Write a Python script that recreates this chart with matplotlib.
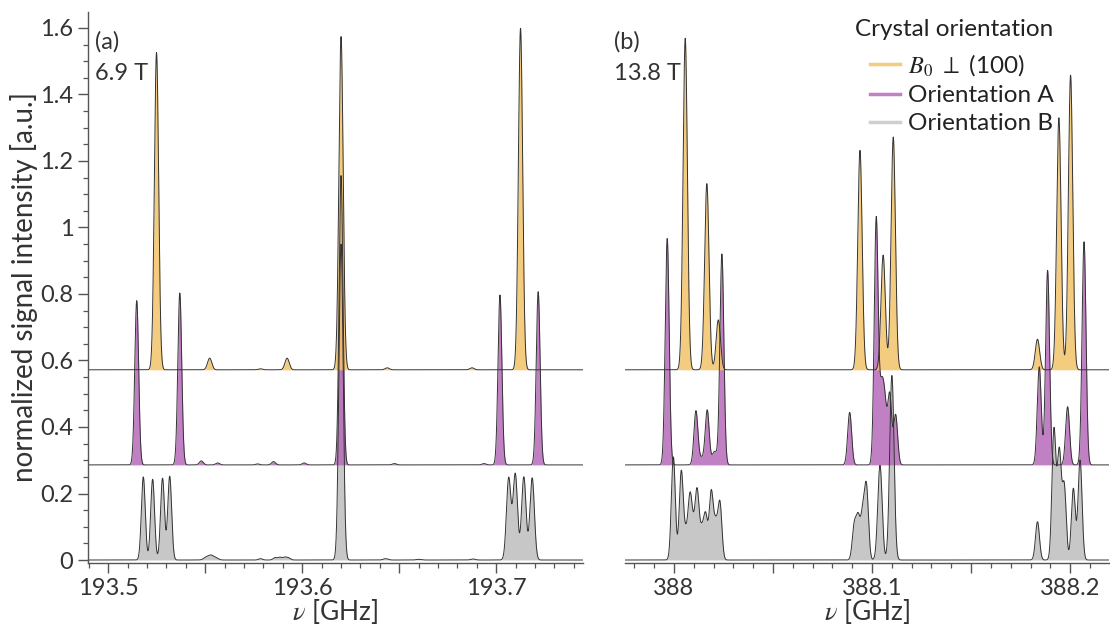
import numpy as np
import matplotlib.pyplot as plt
from matplotlib.ticker import MultipleLocator, FuncFormatter
from matplotlib.lines import Line2D

plt.rcParams['font.family'] = ['Lato', 'DejaVu Sans']
plt.rcParams['mathtext.fontset'] = 'stix'

# vertical offsets of the stacked spectra
base_b = 0.0
base_a = 0.286
base_100 = 0.572

# ---- (a) 6.9 T : line centres [GHz] and heights above baseline ----
a100_nu = [193.5249, 193.5523, 193.5785, 193.5922, 193.6200, 193.6438, 193.6875, 193.7125]
a100_h = [0.954, 0.035, 0.003, 0.035, 1.002, 0.006, 0.006, 1.027]

aA_nu = [193.5147, 193.5369, 193.5480, 193.5564, 193.5770, 193.5852, 193.6010,
         193.6200, 193.6475, 193.6937, 193.7019, 193.7216]
aA_h = [0.494, 0.517, 0.012, 0.006, 0.003, 0.010, 0.006,
        0.870, 0.004, 0.004, 0.511, 0.521]

aB_nu = [193.5181, 193.5229, 193.5280, 193.5317, 193.5505, 193.5530, 193.5555,
         193.5785, 193.5860, 193.5885, 193.5910, 193.5930, 193.6200,
         193.6430, 193.6600, 193.6880,
         193.7064, 193.7098, 193.7142, 193.7185]
aB_h = [0.250, 0.243, 0.246, 0.252, 0.008, 0.013, 0.006,
        0.004, 0.007, 0.008, 0.008, 0.006, 0.950,
        0.004, 0.002, 0.003,
        0.246, 0.258, 0.250, 0.247]
aB_w = [0.0010, 0.0010, 0.0010, 0.0010, 0.0013, 0.0013, 0.0013,
        0.0010, 0.0010, 0.0010, 0.0010, 0.0010, 0.0011,
        0.0012, 0.0012, 0.0012,
        0.00115, 0.00115, 0.00115, 0.00115]

# ---- (b) 13.8 T ----
b100_nu = [388.0057, 388.0166, 388.0224, 388.0939, 388.1056, 388.1107,
           388.1835, 388.1943, 388.2002]
b100_h = [0.997, 0.560, 0.150, 0.660, 0.345, 0.700, 0.092, 0.758, 0.886]

bA_nu = [387.9966, 388.0111, 388.0140, 388.0168, 388.0205, 388.0242, 388.0887,
         388.1021, 388.1047, 388.1064, 388.1089, 388.1119,
         388.1844, 388.1886, 388.1987, 388.2070]
bA_h = [0.681, 0.162, 0.020, 0.164, 0.040, 0.634, 0.158,
        0.740, 0.200, 0.170, 0.210, 0.150,
        0.295, 0.585, 0.175, 0.671]
bA_w = [0.0010, 0.0010, 0.0012, 0.0010, 0.0012, 0.0010, 0.0010,
        0.0010, 0.0010, 0.0010, 0.0010, 0.0010,
        0.0010, 0.0010, 0.0010, 0.0010]

bB_nu = [387.9997, 388.0037, 388.0060, 388.0081, 388.0098, 388.0117, 388.0140,
         388.0160, 388.0188, 388.0210, 388.0232,
         388.0910, 388.0930, 388.0953, 388.0972, 388.1040, 388.1100,
         388.1835, 388.1918, 388.1945, 388.1970, 388.2016, 388.2050]
bB_h = [0.310, 0.265, 0.070, 0.180, 0.070, 0.200, 0.080,
        0.130, 0.200, 0.100, 0.170,
        0.100, 0.120, 0.130, 0.210, 0.285, 0.555,
        0.115, 0.390, 0.320, 0.220, 0.215, 0.300]
bB_w = [0.0010] * 11 + [0.0010, 0.0010, 0.0010, 0.0010, 0.0011, 0.0011] + [0.0010] * 6

c100 = '#f3c36a'
cA = '#b66aba'
cB = '#bebebe'
edge = '#333333'
txt = '#333333'


def spectrum(nu, centres, heights, widths=0.001):
    widths = np.broadcast_to(widths, len(centres))
    y = np.zeros_like(nu)
    for c, h, w in zip(centres, heights, widths):
        y += h * np.exp(-0.5 * ((nu - c) / w) ** 2)
    return y


def draw(ax, nu, base, y, color):
    ax.fill_between(nu, base, base + y, color=color, alpha=0.85, lw=0)
    ax.plot(nu, base + y, color=edge, lw=0.7)


def tick_fmt(v, pos):
    if abs(v * 10 - round(v * 10)) < 1e-6:
        return '{:g}'.format(round(v, 1))
    return ''


def style(ax, xlim):
    ax.set_xlim(*xlim)
    ax.set_ylim(-0.009, 1.648)
    for s in ['top', 'right']:
        ax.spines[s].set_visible(False)
    for s in ['left', 'bottom']:
        ax.spines[s].set_color('#555555')
        ax.spines[s].set_linewidth(1.0)
    ax.xaxis.set_major_locator(MultipleLocator(0.05))
    ax.xaxis.set_minor_locator(MultipleLocator(0.01))
    ax.xaxis.set_major_formatter(FuncFormatter(tick_fmt))
    ax.tick_params(which='both', direction='out', colors='#555555', labelcolor=txt,
                   labelsize=17)
    ax.tick_params(which='major', length=7, width=1.0)
    ax.tick_params(which='minor', length=3.5, width=0.9)
    ax.set_xlabel(r'$\nu$ [GHz]', fontsize=19, color=txt, labelpad=-1)


fig = plt.figure(figsize=(11.1, 6.26), dpi=100)
ax1 = fig.add_axes([88 / 1110, 1 - 563 / 626, 495 / 1110, 551 / 626])
ax2 = fig.add_axes([625 / 1110, 1 - 563 / 626, 484 / 1110, 551 / 626])

nu1 = np.linspace(193.4896, 193.7447, 8000)
draw(ax1, nu1, base_b, spectrum(nu1, aB_nu, aB_h, aB_w), cB)
draw(ax1, nu1, base_a, spectrum(nu1, aA_nu, aA_h, 0.001), cA)
draw(ax1, nu1, base_100, spectrum(nu1, a100_nu, a100_h, 0.0011), c100)
style(ax1, (193.4896, 193.7447))
ax1.yaxis.set_major_locator(MultipleLocator(0.2))
ax1.yaxis.set_minor_locator(MultipleLocator(0.05))
ax1.yaxis.set_major_formatter(FuncFormatter(lambda v, p: '{:g}'.format(round(v, 1))))
ax1.set_ylabel('normalized signal intensity [a.u.]', fontsize=20, color=txt, labelpad=2)

nu2 = np.linspace(387.9753, 388.2196, 8000)
draw(ax2, nu2, base_b, spectrum(nu2, bB_nu, bB_h, bB_w), cB)
draw(ax2, nu2, base_a, spectrum(nu2, bA_nu, bA_h, bA_w), cA)
draw(ax2, nu2, base_100, spectrum(nu2, b100_nu, b100_h, 0.0011), c100)
style(ax2, (387.9753, 388.2196))
ax2.spines['left'].set_visible(False)
ax2.set_yticks([])

fig.text(95 / 1110, 1 - 42 / 626, '(a)', fontsize=17, color=txt, va='center')
fig.text(95 / 1110, 1 - 73 / 626, '6.9 T', fontsize=17, color=txt, va='center')
fig.text(614 / 1110, 1 - 42 / 626, '(b)', fontsize=17, color=txt, va='center')
fig.text(614 / 1110, 1 - 73 / 626, '13.8 T', fontsize=17, color=txt, va='center')

fig.text(855 / 1110, 1 - 30 / 626, 'Crystal orientation', fontsize=17.5, color='#222222',
         va='center')
handles = [Line2D([], [], color='#f5cb7e', lw=2.5),
           Line2D([], [], color='#c181c4', lw=2.5),
           Line2D([], [], color='#cfcfcf', lw=2.5)]
labels = [r'$B_0$ $\perp$ (100)', 'Orientation A', 'Orientation B']
fig.legend(handles, labels, loc='upper left', bbox_to_anchor=(870 / 1110, 1 - 52 / 626),
           frameon=False, fontsize=17.5, borderpad=0, borderaxespad=0,
           handlelength=1.25, handletextpad=0.3, labelspacing=0.3, labelcolor='#222222')

fig.savefig('out.png', dpi=100)
